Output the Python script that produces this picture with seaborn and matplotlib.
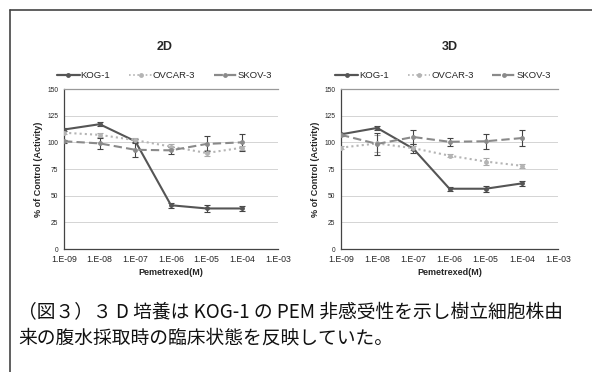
import numpy as np
import pandas as pd
import matplotlib
matplotlib.use("Agg")
import matplotlib.pyplot as plt
import matplotlib.ticker as plticker
from matplotlib.lines import Line2D
import seaborn as sns


# ---------------------------------------------------------------- #
# data
# ---------------------------------------------------------------- #

CONC = [1e-9, 1e-8, 1e-7, 1e-6, 1e-5, 1e-4]
LINES = ["KOG-1", "OVCAR-3", "SKOV-3"]

# 2D culture
KOG_2D = [112, 117, 101, 41, 38, 38]
KOG_2D_ERR = [1.5, 2, 2, 2.5, 3.5, 2]
OVCAR_2D = [109, 107, 102, 96, 90, 95]
OVCAR_2D_ERR = [1.5, 2, 2, 2, 3, 2]
SKOV_2D = [101, 99, 93, 92.5, 98.5, 100]
SKOV_2D_ERR = [1.5, 5, 7, 3, 7, 8]

# 3D culture
KOG_3D = [107.5, 113.5, 94, 56.5, 56.5, 61.5]
KOG_3D_ERR = [1.5, 1.5, 4, 2, 3, 2]
OVCAR_3D = [95, 99, 94.5, 87.5, 82, 78]
OVCAR_3D_ERR = [1.5, 8, 2, 1.5, 3, 2]
SKOV_3D = [107, 98.5, 105, 100.5, 101, 104]
SKOV_3D_ERR = [1.5, 10, 7, 4, 7, 7.5]

Y_TICKS = [0, 25, 50, 75, 100, 125, 150]
X_TICKS = [1e-9, 1e-8, 1e-7, 1e-6, 1e-5, 1e-4, 1e-3]

CAPTION = "（図３）３ D 培養は KOG-1 の PEM 非感受性を示し樹立細胞株由\n来の腹水採取時の臨床状態を反映していた。"

COLORS = {"KOG-1": "#555555", "OVCAR-3": "#b4b4b4", "SKOV-3": "#8a8a8a"}
DASHES = {"KOG-1": "", "OVCAR-3": (1, 1.5), "SKOV-3": (4, 2)}
WIDTHS = {"KOG-1": 1.6, "OVCAR-3": 1.2, "SKOV-3": 1.6}
ERR_COLORS = {"KOG-1": "#444444", "OVCAR-3": "#aaaaaa", "SKOV-3": "#444444"}


def make_frame(kog, ovcar, skov, kog_e, ovcar_e, skov_e) -> pd.DataFrame:
    rows = []
    for name, vals, errs in zip(LINES, [kog, ovcar, skov], [kog_e, ovcar_e, skov_e]):
        for c, v, e in zip(CONC, vals, errs):
            rows.append({"conc": c, "value": v, "err": e, "line": name})
    return pd.DataFrame(rows)


def draw_panel(ax, df: pd.DataFrame, title: str, title_x: float) -> None:
    for name in LINES:
        sub = df[df["line"] == name]
        ax.errorbar(sub["conc"], sub["value"], yerr=sub["err"], fmt="none",
                    ecolor=ERR_COLORS[name], elinewidth=0.8, capsize=2, capthick=0.8, zorder=2)

    sns.lineplot(data=df, x="conc", y="value", hue="line", style="line",
                 palette=COLORS, dashes=DASHES, markers={k: "o" for k in LINES},
                 markersize=3.5, markeredgewidth=0, ax=ax, zorder=3, legend="brief")
    for line in ax.get_lines():
        lbl = line.get_label()
        if lbl in WIDTHS:
            line.set_linewidth(WIDTHS[lbl])

    ax.set_xscale("log")
    ax.set_xlim(1e-9, 1e-3)
    ax.set_ylim(0, 150)
    ax.set_yticks(Y_TICKS)
    ax.set_xticks(X_TICKS)
    ax.xaxis.set_major_formatter(plticker.FuncFormatter(lambda x, _: f"1.E{int(round(np.log10(x))):03d}"))
    ax.xaxis.set_minor_locator(plticker.LogLocator(base=10, subs=np.arange(2, 10), numticks=20))
    ax.xaxis.set_minor_formatter(plticker.NullFormatter())
    ax.tick_params(axis="x", which="minor", direction="in", length=2, width=0.6, color="#333333")
    ax.tick_params(axis="x", which="major", direction="inout", length=3, width=0.6, color="#333333",
                   labelsize=6.3, pad=3)
    ax.tick_params(axis="y", which="major", length=0, labelsize=4.8, pad=4)

    ax.grid(axis="y", color="#d4d4d4", linewidth=0.7)
    ax.grid(axis="x", visible=False)
    ax.set_axisbelow(True)

    for side in ["left", "bottom"]:
        ax.spines[side].set_color("#444444")
        ax.spines[side].set_linewidth(0.9)
    ax.spines["top"].set_color("#999999")
    ax.spines["top"].set_linewidth(0.9)
    ax.spines["right"].set_visible(False)

    ax.set_xlabel("Pemetrexed(M)", fontsize=6.5, fontweight="bold", labelpad=3)
    ax.set_ylabel("% of Control (Activity)", fontsize=6.5, fontweight="bold", labelpad=3)
    ax.set_title(title, fontsize=9, fontweight="bold", pad=28, x=title_x)

    handles, labels = ax.get_legend_handles_labels()
    for h in handles:
        lbl = h.get_label()
        if lbl in WIDTHS:
            h.set_linewidth(WIDTHS[lbl])
    ax.legend(handles, labels, ncol=3, loc="lower center", bbox_to_anchor=(0.47, 1.03),
              frameon=False, fontsize=6.8, handlelength=2.4, columnspacing=2.0, handletextpad=0.1,
              borderaxespad=0)


def main() -> None:
    sns.set_theme(style="white")
    plt.rcParams["font.family"] = ["Liberation Sans", "DejaVu Sans"]

    fig = plt.figure(figsize=(5.92, 3.72), dpi=100)
    fig.patch.set_facecolor("white")

    ax_2d = fig.add_axes([64 / 592, 1 - 249 / 372, 214 / 592, 160 / 372])
    ax_3d = fig.add_axes([341 / 592, 1 - 249 / 372, 217 / 592, 160 / 372])

    df_2d = make_frame(KOG_2D, OVCAR_2D, SKOV_2D, KOG_2D_ERR, OVCAR_2D_ERR, SKOV_2D_ERR)
    df_3d = make_frame(KOG_3D, OVCAR_3D, SKOV_3D, KOG_3D_ERR, OVCAR_3D_ERR, SKOV_3D_ERR)

    draw_panel(ax_2d, df_2d, "2D", 0.47)
    draw_panel(ax_3d, df_3d, "3D", 0.5)

    # frame around the figure (top and left edge only, as in the source)
    fig.add_artist(Line2D([10 / 592, 1], [1 - 10 / 372, 1 - 10 / 372], color="#444444", linewidth=1.2))
    fig.add_artist(Line2D([10 / 592, 10 / 592], [0, 1 - 10 / 372], color="#444444", linewidth=1.2))

    fig.text(18 / 592, 1 - 325 / 372, CAPTION, fontsize=13.5, va="center", ha="left",
             linespacing=1.25, color="#111111",
             family=["Noto Sans CJK JP", "DejaVu Sans"])

    fig.savefig("out.png", dpi=100)
    plt.close(fig)


if __name__ == "__main__":
    main()
